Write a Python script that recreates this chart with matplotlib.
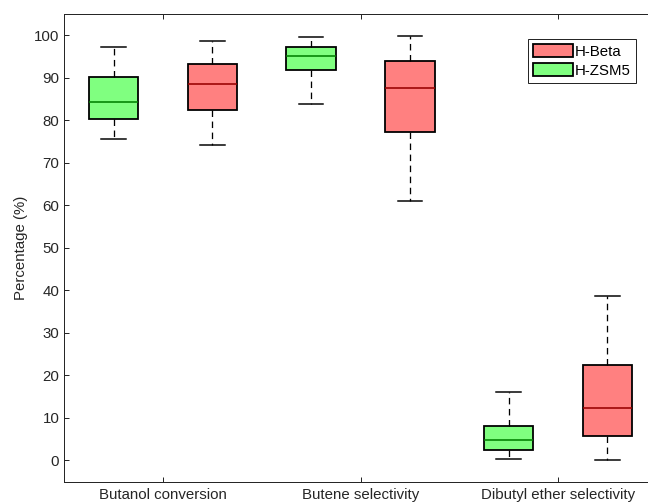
import matplotlib
matplotlib.use("Agg")
import matplotlib.pyplot as plt
from matplotlib.patches import Patch

plt.rcParams['font.family'] = ['Liberation Sans', 'DejaVu Sans']

# categories and the two catalysts
categories = ['Butanol conversion', 'Butene selectivity', 'Dibutyl ether selectivity']

# box stats: lower whisker, Q1, median, Q3, upper whisker
zsm5_low = [75.5, 83.8, 0.3]
zsm5_q1 = [80.4, 91.8, 2.4]
zsm5_med = [84.3, 95.1, 4.9]
zsm5_q3 = [90.2, 97.2, 8.0]
zsm5_high = [97.3, 99.5, 16.0]

beta_low = [74.3, 61.1, 0.0]
beta_q1 = [82.5, 77.3, 5.8]
beta_med = [88.5, 87.5, 12.3]
beta_q3 = [93.3, 94.0, 22.4]
beta_high = [98.6, 99.8, 38.7]

green = '#80ff80'
red = '#ff8080'
axcol = '#262626'
fs = 15


def make_stats(low, q1, med, q3, high):
    out = []
    for i in range(len(low)):
        out.append({'whislo': low[i], 'q1': q1[i], 'med': med[i],
                    'q3': q3[i], 'whishi': high[i], 'fliers': []})
    return out


fig = plt.figure(figsize=(9, 7), dpi=72)
ax = fig.add_axes([64.3 / 648, (504 - 481.7) / 504, (656.7 - 64.3) / 648, (481.7 - 14) / 504])

pos = [1, 2, 3]
for stats, off, fc, mc in [(make_stats(zsm5_low, zsm5_q1, zsm5_med, zsm5_q3, zsm5_high), -0.25, green, '#008000'),
                           (make_stats(beta_low, beta_q1, beta_med, beta_q3, beta_high), 0.25, red, '#990000')]:
    ax.bxp(stats, positions=[p + off for p in pos], widths=0.25, patch_artist=True,
           showfliers=False, capwidths=0.125,
           boxprops=dict(facecolor=fc, edgecolor='black', linewidth=1.8),
           medianprops=dict(color=mc, linewidth=1.6),
           whiskerprops=dict(color='black', linewidth=1.3, linestyle=(0, (5, 3.5))),
           capprops=dict(color='black', linewidth=1.5))

ax.set_xlim(0.5, 3.5)
ax.set_ylim(-5, 105)
ax.set_xticks(pos)
ax.set_xticklabels(categories, fontsize=fs, color=axcol)
ax.set_yticks(range(0, 101, 10))
ax.tick_params(axis='y', labelsize=fs, labelcolor=axcol, pad=5)
ax.tick_params(direction='in', length=5, width=1, color=axcol, top=True, right=True)
ax.tick_params(axis='x', pad=6)
for s in ax.spines.values():
    s.set_color(axcol)
    s.set_linewidth(1)
ax.set_ylabel('Percentage (%)', fontsize=fs, color=axcol, labelpad=6)

handles = [Patch(facecolor=red, edgecolor='black', linewidth=1.8, label='H-Beta'),
           Patch(facecolor=green, edgecolor='black', linewidth=1.8, label='H-ZSM5')]
leg = fig.legend(handles=handles, loc='upper right', bbox_to_anchor=(636 / 648, 1 - 39 / 504),
                 fontsize=fs, handlelength=2.7, handleheight=0.9, handletextpad=0.1,
                 borderpad=0.35, labelspacing=0.3, borderaxespad=0, fancybox=False,
                 framealpha=1, edgecolor=axcol)
leg.get_frame().set_linewidth(1)

fig.savefig('out.png', dpi=72)
